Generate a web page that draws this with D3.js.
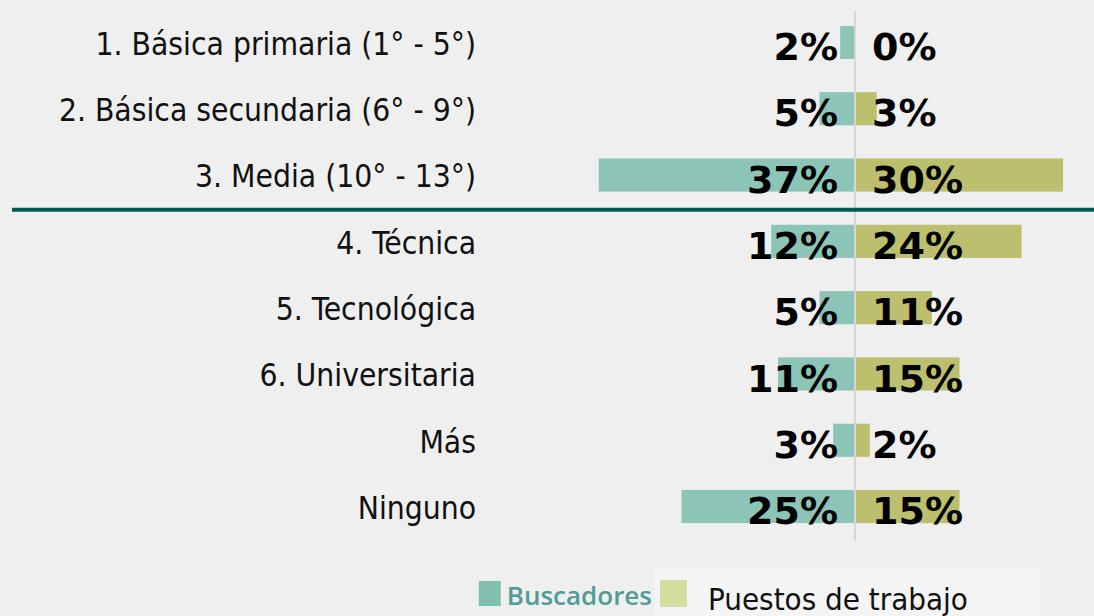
<!DOCTYPE html>
<html>
<head>
<meta charset="utf-8">
<script src="https://cdn.jsdelivr.net/npm/d3@7"></script>
<style>
  html, body { margin: 0; padding: 0; background: #efefef; }
  svg { display: block; }
</style>
</head>
<body>
<svg id="chart" width="1094" height="616"></svg>
<script>
// Nivel educativo: buscadores de empleo vs. puestos de trabajo (%)
const categories = [
  "1. Básica primaria (1° - 5°)",
  "2. Básica secundaria (6° - 9°)",
  "3. Media (10° - 13°)",
  "4. Técnica",
  "5. Tecnológica",
  "6. Universitaria",
  "Más",
  "Ninguno"
];
const buscadores = [2, 5, 37, 12, 5, 11, 3, 25];
const puestos    = [0, 3, 30, 24, 11, 15, 2, 15];
const seriesNames = ["Buscadores", "Puestos de trabajo"];

const W = 1094, H = 616;
const svg = d3.select("#chart");

// background
svg.append("rect").attr("width", W).attr("height", H).attr("fill", "#efefef");
svg.append("rect").attr("x", 655).attr("y", 567).attr("width", 385).attr("height", 49)
  .attr("fill", "#f5f5f5");

const center = 855;
const y = d3.scaleBand().domain(categories).range([9.3, 539.7])
  .paddingInner(0.5).paddingOuter(0.25);
const xL = d3.scaleLinear().domain([0, 40]).range([center - 1, center - 1 - 276]);
const xR = d3.scaleLinear().domain([0, 40]).range([center + 1, center + 1 + 276]);

const rows = categories.map((c, i) => ({ c, b: buscadores[i], p: puestos[i] }));

// left bars (buscadores)
svg.append("g").selectAll("rect").data(rows).join("rect")
  .attr("x", d => xL(d.b)).attr("y", d => y(d.c))
  .attr("width", d => xL(0) - xL(d.b)).attr("height", y.bandwidth())
  .attr("fill", "#8cc4b7");

// right bars (puestos)
svg.append("g").selectAll("rect").data(rows).join("rect")
  .attr("x", xR(0)).attr("y", d => y(d.c))
  .attr("width", d => xR(d.p) - xR(0)).attr("height", y.bandwidth())
  .attr("fill", "#bcbf6e");

// center axis
svg.append("line").attr("x1", center).attr("x2", center)
  .attr("y1", 11).attr("y2", 540.6)
  .attr("stroke", "#d6d6d6").attr("stroke-width", 2);

// separator between row 3 and 4
const sepY = (y(categories[2]) + y.bandwidth() + y(categories[3])) / 2 + 1.5;
svg.append("line").attr("x1", 12).attr("x2", W).attr("y1", sepY).attr("y2", sepY)
  .attr("stroke", "#005c4a").attr("stroke-width", 4);

// category labels
const catFont = "'DejaVu Sans Condensed', 'DejaVu Sans', sans-serif";
svg.append("g").selectAll("text").data(rows).join("text")
  .attr("x", 476).attr("y", d => y(d.c) + y.bandwidth() / 2 + 12.4)
  .attr("text-anchor", "end")
  .attr("font-family", catFont).attr("font-stretch", "condensed")
  .attr("font-size", 31.5).attr("fill", "#111")
  .text(d => d.c);

// value labels
const valFont = "'DejaVu Sans', sans-serif";
svg.append("g").selectAll("text").data(rows).join("text")
  .attr("x", center - 17).attr("y", d => y(d.c) + y.bandwidth() + 1)
  .attr("text-anchor", "end")
  .attr("font-family", valFont).attr("font-weight", "bold")
  .attr("font-size", 38).attr("fill", "#000")
  .text(d => d.b + "%");
svg.append("g").selectAll("text").data(rows).join("text")
  .attr("x", center + 17).attr("y", d => y(d.c) + y.bandwidth() + 1)
  .attr("text-anchor", "start")
  .attr("font-family", valFont).attr("font-weight", "bold")
  .attr("font-size", 38).attr("fill", "#000")
  .text(d => d.p + "%");

// legend
const leg = svg.append("g");
const bText = leg.append("text").attr("x", 652).attr("y", 605)
  .attr("text-anchor", "end")
  .attr("font-family", "'Open Sans', sans-serif").attr("font-weight", 600)
  .attr("font-size", 26).attr("fill", "#4f9c98")
  .text(seriesNames[0]);
const bw = bText.node().getComputedTextLength();
leg.append("rect").attr("x", 652 - bw - 28).attr("y", 581).attr("width", 22).attr("height", 25)
  .attr("fill", "#7fbfae");
leg.append("rect").attr("x", 660).attr("y", 580).attr("width", 27).attr("height", 27)
  .attr("fill", "#d4df9f");
leg.append("text").attr("x", 708).attr("y", 610)
  .attr("font-family", catFont).attr("font-stretch", "condensed")
  .attr("font-size", 31).attr("fill", "#111")
  .text(seriesNames[1]);
</script>
</body>
</html>
